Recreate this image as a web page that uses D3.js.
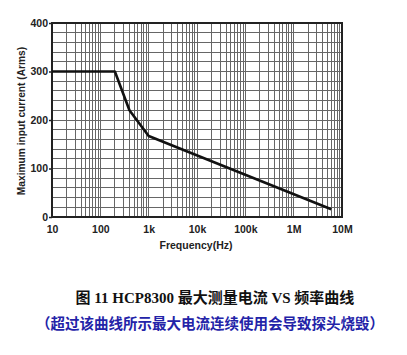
<!DOCTYPE html>
<html><head><meta charset="utf-8">
<script src="https://cdn.jsdelivr.net/npm/d3@7"></script>
<style>body{margin:0;background:#fff}</style>
</head><body>
<svg id="c" width="407" height="355"></svg>
<script>
const freqs = [10, 200, 400, 1000, 6000000];
const currents = [300, 300, 220, 167, 16];
const xTicks = [10, 100, 1000, 10000, 100000, 1000000, 10000000];
const xTickLabels = ["10", "100", "1k", "10k", "100k", "1M", "10M"];
const yTicks = [0, 100, 200, 300, 400];
const yGrid = d3.range(0, 401, 20);
const title1 = "图 11 HCP8300 最大测量电流 VS 频率曲线";
const title2 = "（超过该曲线所示最大电流连续使用会导致探头烧毁）";

const svg = d3.select("#c");
const L = 52, R = 342, T = 23, B = 217;
const x = d3.scaleLog().domain([10, 1e7]).range([L, R]);
const y = d3.scaleLinear().domain([0, 400]).range([B, T]);

// minor vertical grid
const vgrid = [];
for (let e = 1; e < 7; e++) for (let m = 1; m <= 9; m++) vgrid.push(m * Math.pow(10, e));
svg.append("g").selectAll("line").data(vgrid).join("line")
  .attr("x1", d => x(d)).attr("x2", d => x(d)).attr("y1", T).attr("y2", B)
  .attr("stroke", "#666").attr("stroke-width", 1).attr("shape-rendering", "crispEdges");
svg.append("g").selectAll("line").data(yGrid).join("line")
  .attr("x1", L).attr("x2", R).attr("y1", d => y(d)).attr("y2", d => y(d))
  .attr("stroke", "#666").attr("stroke-width", 1).attr("shape-rendering", "crispEdges");

// frame
svg.append("rect").attr("x", L).attr("y", T).attr("width", R - L).attr("height", B - T)
  .attr("fill", "none").attr("stroke", "#222").attr("stroke-width", 2);

// axes
const yAxis = d3.axisLeft(y).tickValues(yTicks).tickSize(3).tickFormat(d3.format("d"));
const gy = svg.append("g").attr("transform", `translate(${L},0)`).call(yAxis);
gy.select(".domain").remove();
gy.selectAll("text").attr("font-family", "Liberation Sans, Arial, sans-serif").attr("font-weight", "bold").attr("font-size", 10.5).attr("fill", "#222").attr("x", -4);
gy.selectAll("line").attr("stroke", "#222").attr("stroke-width", 1.5);

const xAxis = d3.axisBottom(x).tickValues(xTicks).tickSize(0).tickFormat((d, i) => xTickLabels[i]);
const gx = svg.append("g").attr("transform", `translate(0,${B})`).call(xAxis);
gx.select(".domain").remove();
gx.selectAll("text").attr("font-family", "Liberation Sans, Arial, sans-serif").attr("font-weight", "bold").attr("font-size", 10.5).attr("fill", "#222").attr("dy", "1.25em");

// curve
svg.append("path").datum(freqs.map((f, i) => [f, currents[i]]))
  .attr("d", d3.line().x(d => x(d[0])).y(d => y(d[1])))
  .attr("fill", "none").attr("stroke", "#111").attr("stroke-width", 2.6).attr("stroke-linejoin", "round");

// axis titles
svg.append("text").attr("transform", `translate(25,${(T + B) / 2 + 1}) rotate(-90)`)
  .attr("text-anchor", "middle").attr("font-family", "Liberation Sans, Arial, sans-serif")
  .attr("font-weight", "bold").attr("font-size", 10.2).attr("fill", "#222")
  .text("Maximum input current (Arms)");
svg.append("text").attr("x", 196).attr("y", 249).attr("text-anchor", "middle")
  .attr("font-family", "Liberation Sans, Arial, sans-serif").attr("font-weight", "bold")
  .attr("font-size", 10.5).attr("fill", "#222").text("Frequency(Hz)");

// captions
svg.append("text").attr("x", 215).attr("y", 303).attr("text-anchor", "middle")
  .attr("font-family", "Liberation Serif, 'Noto Sans CJK SC', serif").attr("font-weight", "bold")
  .attr("font-size", 15).attr("fill", "#111").text(title1);
svg.append("text").attr("x", 210).attr("y", 329).attr("text-anchor", "middle")
  .attr("font-family", "'Noto Sans CJK SC', sans-serif").attr("font-weight", "bold")
  .attr("font-size", 14.5).attr("fill", "#2323a8").text(title2);
</script>
</body></html>
